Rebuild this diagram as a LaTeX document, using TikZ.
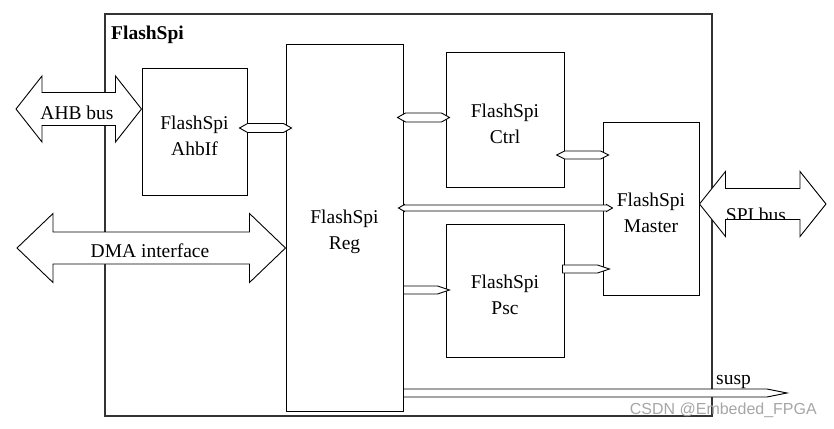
\documentclass[tikz,border=0pt]{standalone}
\usepackage{fontspec}
\setmainfont{Liberation Serif}
\newfontfamily\wmfont{Liberation Sans}
\usetikzlibrary{calc}
\newcommand\dblarrow[6][]{%
  \path[conn,#1] let \p1=#2, \p2=#3 in
   (\x1,\y1) -- (\x1+#6,\y1+#5) -- (\x1+#6,\y1+#4) -- (\x2-#6,\y2+#4) -- (\x2-#6,\y2+#5)
   -- (\x2,\y2) -- (\x2-#6,\y2-#5) -- (\x2-#6,\y2-#4) -- (\x1+#6,\y1-#4) -- (\x1+#6,\y1-#5) -- cycle;}
\newcommand\sglarrow[6][]{%
  \path[conn,#1] let \p1=#2, \p2=#3 in
   (\x1,\y1+#4) -- (\x2-#6,\y2+#4) -- (\x2-#6,\y2+#5) -- (\x2,\y2)
   -- (\x2-#6,\y2-#5) -- (\x2-#6,\y2-#4) -- (\x1,\y1-#4) -- cycle;}
\begin{document}
\begin{tikzpicture}[x=1pt,y=-1pt,
  blk/.style={draw=black, line width=1pt, inner sep=0pt},
  inlbl/.style={inner sep=0pt, align=center, yshift=-4pt, font=\fontsize{19.5}{26}\selectfont},
  conn/.style={draw=black, line width=0.9pt, fill=white, line join=miter},
  lbl/.style={inner sep=0pt, font=\fontsize{19.5}{26}\selectfont}]
\useasboundingbox (0,0) rectangle (834,428);
% outer block
\node[draw=black!80, line width=1.2pt, minimum width=607pt, minimum height=402pt, inner sep=0pt] (outer) at (408.5,215) {};
\node[lbl, anchor=base west, font=\fontsize{19.5}{26}\selectfont\bfseries] (title) at (111,40) {FlashSpi};
% inner blocks
\node[blk, minimum width=105pt, minimum height=127pt, label={[inlbl]center:FlashSpi\\AhbIf}] (ahbif) at (194.5,131.5) {};
\node[blk, minimum width=117pt, minimum height=366pt, label={[inlbl]center:FlashSpi\\Reg}] (reg) at (344.5,228) {};
\node[blk, minimum width=118pt, minimum height=134pt, label={[inlbl]center:FlashSpi\\Ctrl}] (ctrl) at (505,120) {};
\node[blk, minimum width=118pt, minimum height=133pt, label={[inlbl]center:FlashSpi\\Psc}] (psc) at (505,290.5) {};
\node[blk, minimum width=96pt, minimum height=173pt, label={[inlbl]center:FlashSpi\\Master}] (master) at (651,208.5) {};
% free ends
\coordinate (ahbL) at (16,109);
\coordinate (dmaL) at (17,248);
\coordinate (spiR) at (826,204);
\coordinate (suspR) at (787,393);
% big bus arrows
\dblarrow{(ahbL)}{(ahbif.west |- ahbL)}{16.5pt}{33pt}{26pt}
\dblarrow{(dmaL)}{(reg.west |- dmaL)}{16pt}{34.5pt}{36pt}
\dblarrow{(master.east |- spiR)}{(spiR)}{15.5pt}{32.5pt}{26pt}
\node[lbl] (ahbtxt) at (77,113) {AHB bus};
\node[lbl] (dmatxt) at (150,251) {DMA interface};
\begin{scope}
\clip (724,189.5) rectangle (800,219.5);
\node[lbl, anchor=base] (spitxt) at (756,221) {SPI bus};
\end{scope}
% internal connectors
\dblarrow{([xshift=-8pt]ahbif.east |- 0,128)}{([xshift=6pt]reg.west |- 0,128)}{4.5pt}{4.5pt}{8pt}
\dblarrow{([xshift=-6pt]reg.east |- 0,117.5)}{([xshift=4pt]ctrl.west |- 0,117.5)}{4.5pt}{4.5pt}{8pt}
\dblarrow{([xshift=-8pt]ctrl.east |- 0,155)}{([xshift=6pt]master.west |- 0,155)}{4pt}{4pt}{8pt}
\dblarrow{([xshift=-5pt]reg.east |- 0,208)}{([xshift=10pt]master.west |- 0,208)}{3pt}{3.5pt}{6pt}
\sglarrow{(reg.east |- 0,290)}{([xshift=4pt]psc.west |- 0,290)}{4pt}{4pt}{12pt}
\sglarrow{([xshift=-2pt]psc.east |- 0,269)}{([xshift=7pt]master.west |- 0,269)}{4pt}{4pt}{12pt}
\sglarrow{(reg.east |- suspR)}{(suspR)}{4pt}{4pt}{20pt}
\node[lbl, anchor=base west] (susptxt) at (716,384) {susp};
% watermark
\node[inner sep=0pt, anchor=east, text=black!35, font=\wmfont\fontsize{16}{16}\selectfont] (wm) at (817,410) {CSDN @Embeded\_FPGA};
\end{tikzpicture}
\end{document}
